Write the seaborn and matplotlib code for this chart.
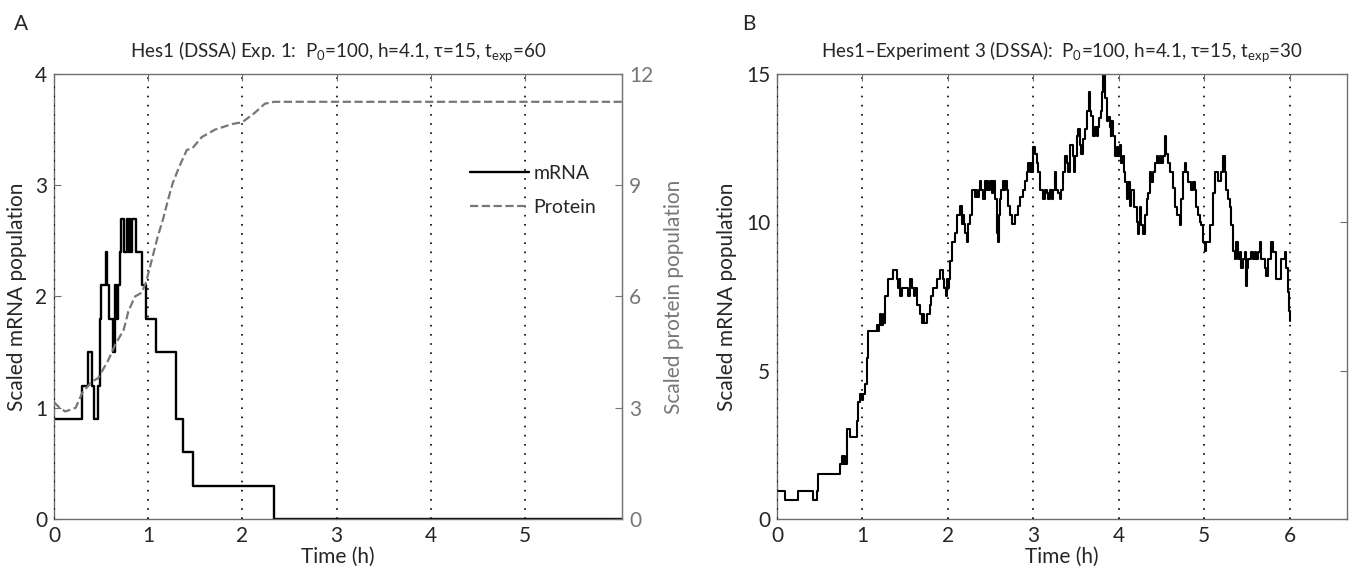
import matplotlib
matplotlib.use('Agg')
import pandas as pd
import matplotlib.pyplot as plt
import seaborn as sns

# panel A: mRNA (left axis)
t_mrna_a = [0, 0.30, 0.36, 0.40, 0.43, 0.47, 0.49, 0.50, 0.555, 0.565, 0.58, 0.63, 0.645,
            0.65, 0.665, 0.675, 0.70, 0.71, 0.74, 0.775, 0.79, 0.795, 0.81, 0.83, 0.87,
            0.94, 0.98, 1.08, 1.30, 1.37, 1.48, 2.34, 6.03]
mrna_a = [0.9, 1.2, 1.5, 1.2, 0.9, 1.2, 1.8, 2.1, 2.4, 2.1, 1.8, 1.5, 1.8,
          2.1, 1.8, 2.1, 2.4, 2.7, 2.4, 2.7, 2.4, 2.7, 2.4, 2.7, 2.4,
          2.1, 1.8, 1.5, 0.9, 0.6, 0.3, 0.0, 0.0]

# panel A: protein (right axis)
t_prot_a = [0, 0.06, 0.12, 0.18, 0.23, 0.30, 0.40, 0.47, 0.58, 0.65, 0.74, 0.79, 0.86, 0.93,
            0.98, 1.04, 1.10, 1.16, 1.21, 1.26, 1.33, 1.41, 1.47, 1.57, 1.71, 1.89, 2.0,
            2.13, 2.24, 2.34, 6.03]
prot_a = [3.15, 3.0, 2.9, 2.95, 3.0, 3.4, 3.7, 3.8, 4.3, 4.7, 5.1, 5.6, 6.0, 6.1,
          6.4, 7.0, 7.6, 8.1, 8.6, 9.05, 9.5, 9.95, 10.0, 10.3, 10.5, 10.65, 10.7,
          10.95, 11.2, 11.25, 11.25]

# panel B: mRNA, experiment 3
t_mrna_b = [0, 0.094, 0.25, 0.417, 0.464, 0.476, 0.737, 0.756, 0.770, 0.784, 0.80, 0.815,
            0.854, 0.932, 0.951, 0.971, 0.99, 1.01, 1.029, 1.049, 1.068, 1.166, 1.18, 1.19,
            1.205, 1.22, 1.235, 1.25, 1.263, 1.302, 1.361, 1.40, 1.419, 1.435, 1.445, 1.458,
            1.52, 1.535, 1.556, 1.575, 1.60, 1.615, 1.634, 1.673, 1.692, 1.71, 1.72, 1.75,
            1.789, 1.80, 1.828, 1.867, 1.906, 1.945, 1.96, 1.975, 1.99, 2.0, 2.01, 2.023,
            2.043, 2.082, 2.101, 2.14, 2.16, 2.175, 2.19, 2.199, 2.218, 2.238, 2.257, 2.277,
            2.316, 2.33, 2.345, 2.36, 2.374, 2.39, 2.413, 2.433, 2.45, 2.46, 2.472, 2.49,
            2.511, 2.53, 2.55, 2.569, 2.58, 2.589, 2.60, 2.608, 2.625, 2.647, 2.66, 2.67,
            2.686, 2.706, 2.725, 2.745, 2.784, 2.823, 2.842, 2.881, 2.90, 2.92, 2.94, 2.955,
            2.97, 2.979, 2.998, 3.02, 3.037, 3.06, 3.076, 3.115, 3.135, 3.154, 3.17, 3.193,
            3.213, 3.23, 3.251, 3.27, 3.29, 3.31, 3.329, 3.349, 3.368, 3.388, 3.407, 3.427,
            3.466, 3.48, 3.49, 3.505, 3.524, 3.544, 3.563, 3.583, 3.602, 3.622, 3.653, 3.665,
            3.68, 3.70, 3.719, 3.739, 3.755, 3.77, 3.797, 3.805, 3.817, 3.836, 3.856, 3.875,
            3.895, 3.905, 3.914, 3.934, 3.953, 3.973, 3.992, 4.012, 4.025, 4.043, 4.058, 4.07,
            4.09, 4.109, 4.129, 4.148, 4.175, 4.207, 4.226, 4.236, 4.246, 4.265, 4.285, 4.304,
            4.324, 4.343, 4.363, 4.382, 4.402, 4.421, 4.441, 4.46, 4.48, 4.499, 4.519, 4.538,
            4.548, 4.577, 4.597, 4.636, 4.655, 4.675, 4.714, 4.733, 4.753, 4.772, 4.79, 4.811,
            4.85, 4.87, 4.889, 4.908, 4.928, 4.947, 4.967, 4.986, 5.006, 5.025, 5.064, 5.103,
            5.123, 5.162, 5.201, 5.22, 5.24, 5.259, 5.279, 5.298, 5.318, 5.337, 5.357, 5.376,
            5.396, 5.415, 5.435, 5.454, 5.473, 5.493, 5.503, 5.513, 5.552, 5.571, 5.59, 5.61,
            5.63, 5.649, 5.669, 5.708, 5.727, 5.747, 5.786, 5.805, 5.844, 5.883, 5.903, 5.942,
            5.961, 5.981, 5.992, 6.0]
mrna_b = [0.94, 0.63, 0.94, 0.63, 0.94, 1.52, 1.86, 2.14, 1.86, 2.14, 1.86, 3.03,
          2.75, 3.3, 3.93, 4.2, 4.0, 4.2, 4.54, 5.44, 6.33, 6.55, 6.33, 6.55,
          6.9, 6.55, 6.9, 6.6, 7.5, 8.1, 8.4, 8.1, 7.8, 8.1, 7.5, 7.8,
          7.8, 7.5, 8.1, 7.8, 7.5, 7.8, 7.2, 6.9, 6.6, 6.9, 6.6, 6.9,
          7.2, 7.5, 7.8, 8.1, 8.4, 8.1, 7.8, 7.5, 8.1, 7.8, 8.1, 8.7,
          9.35, 9.65, 10.25, 10.55, 9.95, 10.25, 9.95, 9.65, 9.35, 9.95, 10.25, 11.1,
          10.85, 11.1, 10.85, 11.1, 11.4, 11.1, 10.8, 11.4, 11.1, 11.4, 11.1, 11.4,
          11.0, 11.4, 10.8, 10.25, 9.65, 9.35, 10.25, 10.8, 11.1, 11.4, 11.1, 11.4,
          11.1, 10.55, 10.25, 9.95, 10.25, 10.55, 10.85, 11.1, 11.4, 11.7, 12.0, 11.7,
          12.0, 11.7, 12.55, 12.3, 12.0, 11.7, 11.1, 10.8, 11.1, 11.0, 10.8, 11.1,
          10.8, 11.1, 11.7, 11.1, 11.0, 10.8, 11.1, 11.7, 12.25, 12.0, 11.7, 12.6,
          12.25, 11.7, 12.25, 12.9, 13.15, 12.6, 12.3, 12.8, 13.15, 13.75, 14.4, 13.75,
          13.6, 12.9, 13.2, 12.9, 13.2, 13.5, 13.75, 14.4, 14.95, 14.2, 13.4, 13.55,
          13.2, 12.9, 13.4, 12.9, 12.25, 12.55, 12.25, 12.6, 12.0, 12.25, 11.7, 11.35,
          10.8, 11.35, 10.55, 11.1, 10.5, 10.0, 9.6, 10.0, 10.5, 9.9, 9.6, 10.25,
          10.8, 11.0, 11.7, 11.35, 11.7, 12.0, 12.25, 12.0, 12.25, 12.0, 12.25, 12.9,
          12.3, 12.0, 11.7, 11.15, 10.5, 10.25, 9.9, 10.8, 11.7, 12.0, 11.7, 11.35,
          11.1, 11.35, 11.1, 10.5, 10.25, 10.0, 9.9, 9.35, 9.05, 9.35, 9.9, 11.0,
          11.7, 11.4, 11.7, 12.25, 11.7, 11.1, 10.8, 10.5, 9.9, 9.05, 8.75, 9.35,
          8.75, 9.0, 8.45, 8.75, 9.0, 7.85, 8.45, 8.75, 9.0, 8.75, 9.0, 8.75,
          9.0, 9.35, 8.75, 8.45, 8.2, 8.75, 9.35, 9.0, 8.1, 8.1, 8.75, 9.0,
          8.45, 7.65, 7.0, 6.67]

df_a = pd.DataFrame({'t': t_mrna_a, 'mrna': mrna_a})
df_p = pd.DataFrame({'t': t_prot_a, 'protein': prot_a})
df_b = pd.DataFrame({'t': t_mrna_b, 'mrna': mrna_b})

sns.set_style('white')
plt.rcParams['font.family'] = ['Lato', 'DejaVu Sans']
plt.rcParams['mathtext.fontset'] = 'custom'
plt.rcParams['mathtext.rm'] = 'Lato'
plt.rcParams['mathtext.it'] = 'Lato:italic'

spine_col = '#6e6e6e'
grey = '#777777'
fs = 15

fig = plt.figure(figsize=(13.66, 5.74), dpi=100)
ax1 = fig.add_axes([0.0395, 0.0958, 0.4158, 0.7753])
ax3 = fig.add_axes([0.5688, 0.0958, 0.4173, 0.7753])


def style_axis(ax, mirror_y=True):
    for s in ax.spines.values():
        s.set_color(spine_col)
        s.set_linewidth(1.0)
    ax.tick_params(direction='in', length=5, width=0.8, color=spine_col,
                   labelsize=fs, pad=5, top=True, right=mirror_y)
    ax.tick_params(axis='x', pad=5)
    ax.grid(axis='x', linestyle=(0, (1, 4.5)), color='black', linewidth=1.2)
    ax.set_axisbelow(False)


# panel A
sns.lineplot(data=df_a, x='t', y='mrna', ax=ax1, color='black', linewidth=1.7,
             drawstyle='steps-post', estimator=None, label='mRNA', legend=False)
ax1.set_xlim(0, 6.03)
ax1.set_ylim(0, 4)
ax1.set_xticks([0, 1, 2, 3, 4, 5])
ax1.set_yticks([0, 1, 2, 3, 4])
style_axis(ax1, mirror_y=False)
ax1.set_xlabel('Time (h)', fontsize=fs, labelpad=1)
ax1.set_ylabel('Scaled mRNA population', fontsize=fs, labelpad=6)
ax1.set_title('Hes1 (DSSA) Exp. 1:  P$_0$=100, h=4.1, τ=15, t$_{\\rm exp}$=60',
              fontsize=13.5, pad=12)

ax2 = ax1.twinx()
sns.lineplot(data=df_p, x='t', y='protein', ax=ax2, color=grey, linewidth=1.6,
             linestyle='--', dashes=(6, 3.5), estimator=None, label='Protein', legend=False)
ax2.set_ylim(0, 12)
ax2.set_yticks([0, 3, 6, 9, 12])
for s in ax2.spines.values():
    s.set_visible(False)
ax2.spines['right'].set_visible(True)
ax2.spines['right'].set_color(grey)
ax2.tick_params(direction='in', length=5, width=0.8, color=grey, labelcolor=grey,
                labelsize=fs, pad=5)
ax2.set_ylabel('Scaled protein population', fontsize=fs, color=grey, labelpad=8)

h1, l1 = ax1.get_legend_handles_labels()
h2, l2 = ax2.get_legend_handles_labels()
ax2.legend(h1 + h2, l1 + l2, loc='upper left', bbox_to_anchor=(0.733, 0.795),
           frameon=False, fontsize=14, handlelength=3.0, handletextpad=0.25,
           labelspacing=0.85, borderaxespad=0, borderpad=0)

# panel B
sns.lineplot(data=df_b, x='t', y='mrna', ax=ax3, color='black', linewidth=1.5,
             drawstyle='steps-post', estimator=None)
ax3.set_xlim(0, 6.67)
ax3.set_ylim(0, 15)
ax3.set_xticks([0, 1, 2, 3, 4, 5, 6])
ax3.set_yticks([0, 5, 10, 15])
style_axis(ax3, mirror_y=True)
ax3.set_xlabel('Time (h)', fontsize=fs, labelpad=1)
ax3.set_ylabel('Scaled mRNA population', fontsize=fs, labelpad=6)
ax3.set_title('Hes1\u2013Experiment 3 (DSSA):  P$_0$=100, h=4.1, τ=15, t$_{\\rm exp}$=30',
              fontsize=13.5, pad=12)

fig.text(14 / 1366, 1 - 24 / 574, 'A', fontsize=15, va='center')
fig.text(742 / 1366, 1 - 24 / 574, 'B', fontsize=15, va='center')

fig.savefig('out.png', dpi=100)
